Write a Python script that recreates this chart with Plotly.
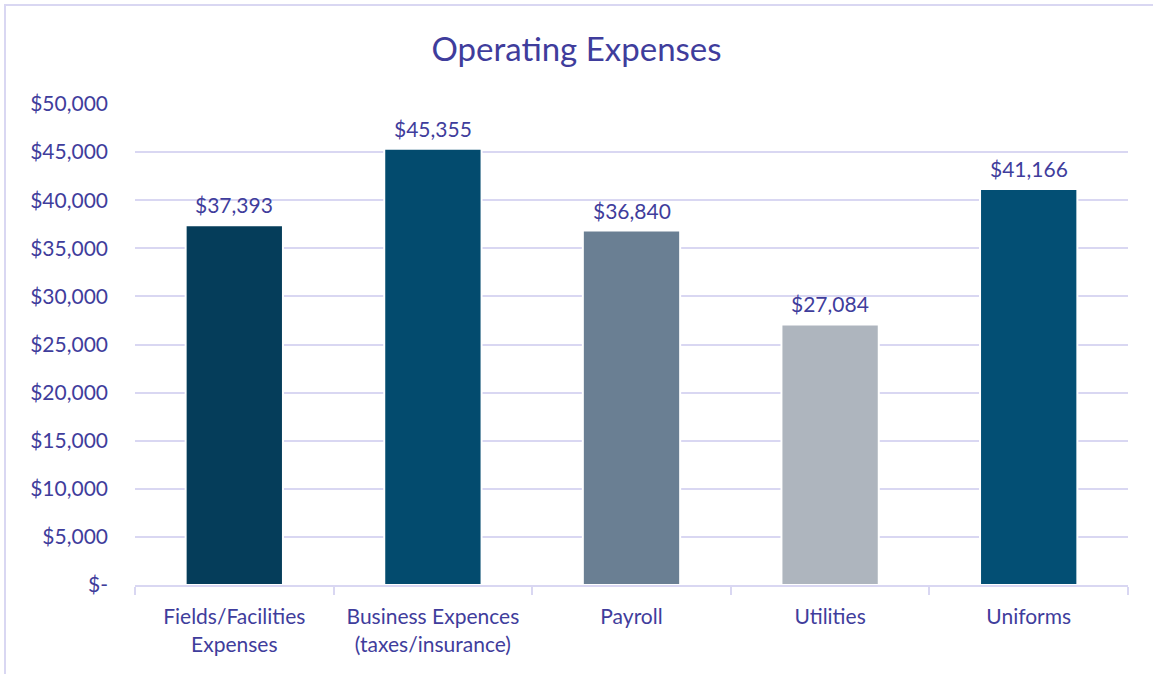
import plotly.graph_objects as go

categories = ["Fields/Facilities<br>Expenses", "Business Expences<br>(taxes/insurance)", "Payroll", "Utilities", "Uniforms"]
values = [37393, 45355, 36840, 27084, 41166]
bar_colors = ["#053D5A", "#034B6E", "#6A7F93", "#AEB5BE", "#034F74"]
tick_vals = [0, 5000, 10000, 15000, 20000, 25000, 30000, 35000, 40000, 45000, 50000]
tick_text = ["$-", "$5,000", "$10,000", "$15,000", "$20,000", "$25,000", "$30,000", "$35,000", "$40,000", "$45,000", "$50,000"]

text_color = "#3F3D9C"
grid_color = "#D9D7F2"
font_family = "Lato, 'Open Sans', sans-serif"

fig = go.Figure(go.Bar(
    x=categories,
    y=values,
    marker=dict(color=bar_colors, line=dict(color="white", width=2)),
    width=0.49,
    hoverinfo="skip",
))

for c, v in zip(categories, values):
    fig.add_annotation(x=c, y=v, text="${:,}".format(v), showarrow=False,
                       yanchor="bottom", yshift=6,
                       font=dict(size=21, color=text_color, family=font_family))

fig.update_layout(
    width=1153, height=674,
    margin=dict(l=135, r=25, t=104, b=89, autoexpand=False),
    paper_bgcolor="white", plot_bgcolor="white",
    font=dict(family=font_family, color=text_color, size=20),
    title=dict(text="Operating Expenses", x=0.5, xanchor="center", y=0.926, yanchor="middle",
               font=dict(size=33, color=text_color, family=font_family)),
    showlegend=False,
)
fig.update_yaxes(
    range=[0, 50000], tickvals=tick_vals, ticktext=tick_text,
    showgrid=True, gridcolor=grid_color, gridwidth=2,
    zeroline=False, showline=False, ticks="",
    tickfont=dict(size=21, color=text_color),
    ticklabelstandoff=26,
    automargin=False,
)
fig.update_xaxes(
    showline=True, linecolor=grid_color, linewidth=2,
    ticks="outside", ticklen=8, tickcolor=grid_color, tickwidth=2,
    tickson="boundaries",
    tickfont=dict(size=21, color=text_color),
    ticklabelstandoff=12,
    automargin=False,
)
fig.add_shape(type="rect", xref="paper", yref="paper",
              x0=-0.1309, x1=1.05, y0=-0.2, y1=1.2058,
              line=dict(color=grid_color, width=2), fillcolor="rgba(0,0,0,0)", layer="below")

fig.write_html("out.html", post_script="document.body.style.margin='0';",
               config={"displayModeBar": False})
